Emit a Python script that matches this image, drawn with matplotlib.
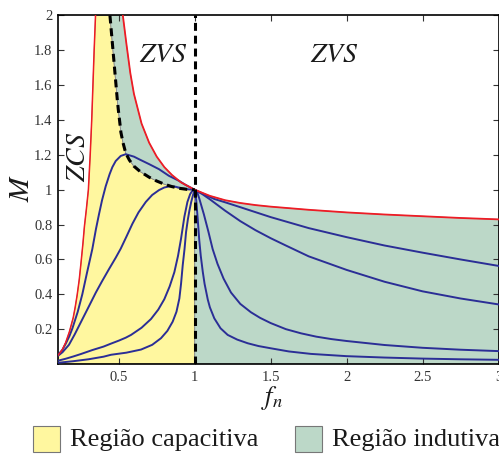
import matplotlib
matplotlib.use("Agg")
import matplotlib.pyplot as plt
from matplotlib.patches import Rectangle
import numpy as np

# ---------------- data ----------------
red_left_fn = [0.10, 0.115, 0.13, 0.15, 0.175, 0.20, 0.213, 0.226, 0.24, 0.252, 0.264, 0.274, 0.287, 0.300, 0.312, 0.322, 0.330, 0.338, 0.347]
red_left_M = [0.05, 0.066, 0.085, 0.122, 0.185, 0.265, 0.325, 0.395, 0.485, 0.585, 0.69, 0.79, 0.89, 1.00, 1.20, 1.40, 1.60, 1.80, 2.00]

red_right_fn = [0.527, 0.55, 0.576, 0.60, 0.65, 0.70, 0.75, 0.80, 0.85, 0.91, 1.00, 1.10, 1.20, 1.30, 1.40, 1.50, 1.75, 2.00, 2.25, 2.50, 2.75, 3.00]
red_right_M = [2.00, 1.84, 1.67, 1.55, 1.38, 1.27, 1.19, 1.13, 1.085, 1.042, 1.00, 0.965, 0.94, 0.924, 0.912, 0.903, 0.885, 0.870, 0.858, 0.848, 0.838, 0.830]

boundary_fn = [0.442, 0.452, 0.462, 0.472, 0.482, 0.490, 0.497, 0.505, 0.514, 0.528, 0.546, 0.57, 0.60, 0.64, 0.70, 0.75, 0.80, 0.85, 0.90, 0.95, 1.00]
boundary_M = [2.00, 1.90, 1.80, 1.70, 1.60, 1.52, 1.46, 1.40, 1.33, 1.27, 1.21, 1.17, 1.135, 1.105, 1.072, 1.05, 1.032, 1.018, 1.008, 1.002, 1.00]

q05_fn = [0.10, 0.128, 0.15, 0.175, 0.195, 0.23, 0.26, 0.29, 0.326, 0.35, 0.37, 0.39, 0.414, 0.44, 0.458, 0.48, 0.513, 0.546, 0.60, 0.634, 0.70, 0.765, 0.83, 0.897, 0.94, 1.00, 1.06, 1.129, 1.20, 1.30, 1.37, 1.50, 1.75, 2.00, 2.25, 2.50, 2.75, 3.00]
q05_M = [0.053, 0.08, 0.115, 0.16, 0.205, 0.30, 0.40, 0.52, 0.66, 0.775, 0.86, 0.94, 1.02, 1.09, 1.13, 1.165, 1.194, 1.204, 1.19, 1.175, 1.147, 1.118, 1.08, 1.051, 1.028, 1.00, 0.975, 0.947, 0.928, 0.900, 0.880, 0.843, 0.780, 0.728, 0.680, 0.639, 0.600, 0.563]

q1_fn = [0.10, 0.13, 0.172, 0.21, 0.261, 0.30, 0.349, 0.39, 0.436, 0.48, 0.513, 0.55, 0.59, 0.63, 0.678, 0.72, 0.765, 0.80, 0.831, 0.87, 0.918, 0.96, 1.00, 1.05, 1.10, 1.20, 1.30, 1.40, 1.50, 1.60, 1.75, 2.00, 2.25, 2.50, 2.75, 3.00]
q1_M = [0.047, 0.068, 0.11, 0.17, 0.258, 0.325, 0.41, 0.475, 0.545, 0.61, 0.662, 0.73, 0.805, 0.87, 0.93, 0.97, 0.998, 1.013, 1.019, 1.018, 1.008, 1.002, 1.00, 0.975, 0.945, 0.88, 0.82, 0.768, 0.722, 0.68, 0.618, 0.54, 0.472, 0.417, 0.376, 0.342]

q5_fn = [0.10, 0.15, 0.20, 0.25, 0.326, 0.40, 0.449, 0.50, 0.546, 0.581, 0.65, 0.712, 0.76, 0.80, 0.835, 0.866, 0.89, 0.91, 0.932, 0.952, 0.97, 0.985, 1.00, 1.015, 1.03, 1.06, 1.09, 1.118, 1.15, 1.19, 1.239, 1.30, 1.37, 1.43, 1.50, 1.60, 1.70, 1.80, 1.90, 2.00, 2.25, 2.50, 2.75, 3.00]
q5_M = [0.019, 0.03, 0.043, 0.057, 0.08, 0.10, 0.117, 0.134, 0.151, 0.167, 0.208, 0.258, 0.312, 0.372, 0.445, 0.527, 0.62, 0.719, 0.845, 0.93, 0.975, 0.995, 1.00, 0.99, 0.95, 0.86, 0.76, 0.66, 0.575, 0.49, 0.41, 0.345, 0.297, 0.265, 0.235, 0.20, 0.176, 0.157, 0.143, 0.132, 0.109, 0.093, 0.082, 0.074]

q15_fn = [0.10, 0.20, 0.30, 0.40, 0.449, 0.55, 0.647, 0.72, 0.778, 0.82, 0.855, 0.88, 0.899, 0.91, 0.921, 0.933, 0.943, 0.955, 0.965, 0.977, 0.989, 1.00, 1.01, 1.02, 1.03, 1.04, 1.053, 1.065, 1.086, 1.10, 1.129, 1.17, 1.217, 1.28, 1.349, 1.42, 1.502, 1.62, 1.765, 2.00, 2.25, 2.50, 2.75, 3.00]
q15_M = [0.007, 0.016, 0.027, 0.042, 0.053, 0.065, 0.083, 0.11, 0.148, 0.19, 0.243, 0.30, 0.376, 0.46, 0.566, 0.66, 0.757, 0.83, 0.88, 0.93, 0.97, 1.00, 0.94, 0.83, 0.71, 0.62, 0.53, 0.46, 0.37, 0.325, 0.262, 0.205, 0.167, 0.14, 0.119, 0.103, 0.09, 0.072, 0.058, 0.045, 0.037, 0.031, 0.027, 0.024]

blue_curves = [(q05_fn, q05_M), (q1_fn, q1_M), (q5_fn, q5_M), (q15_fn, q15_M)]

x_ticks = [0.5, 1, 1.5, 2, 2.5, 3]
x_tick_labels = ["0.5", "1", "1.5", "2", "2.5", "3"]
y_ticks = [0.2, 0.4, 0.6, 0.8, 1.0, 1.2, 1.4, 1.6, 1.8, 2.0]
y_tick_labels = ["0.2", "0.4", "0.6", "0.8", "1", "1.2", "1.4", "1.6", "1.8", "2"]
legend_labels = ["Região capacitiva", "Região indutiva"]

# ---------------- styling ----------------
YELLOW = "#fff79f"
GREEN = "#bcd8c8"
RED = "#ee1c25"
BLUE = "#2b2e96"

plt.rcParams["mathtext.fontset"] = "stix"
plt.rcParams["font.family"] = ["Liberation Serif", "DejaVu Serif"]

W, H = 499, 457
fig = plt.figure(figsize=(W / 100, H / 100), dpi=100)
ax = fig.add_axes([58 / W, 1 - 364 / H, 440.5 / W, (364 - 15.5) / H])

# fills
yx = [0.10] + red_left_fn + boundary_fn + [1.0, 0.10]
yy = [0.0] + red_left_M + boundary_M + [0.0, 0.0]
ax.fill(yx, yy, facecolor=YELLOW, edgecolor="#8a8a7a", lw=0.6, zorder=1)
gx = red_right_fn + [3.0, 1.0] + boundary_fn[::-1]
gy = red_right_M + [0.0, 0.0] + boundary_M[::-1]
ax.fill(gx, gy, facecolor=GREEN, edgecolor="#8a8a8a", lw=0.6, zorder=1)

for fx, my in blue_curves:
    ax.plot(fx, my, color=BLUE, lw=1.4, zorder=3, solid_joinstyle="round")

ax.plot(red_left_fn, red_left_M, color=RED, lw=1.1, zorder=4)
ax.plot(red_right_fn, red_right_M, color=RED, lw=1.3, zorder=4)

dash = (0, (2.6, 1.6))
ax.plot(boundary_fn, boundary_M, color="black", lw=2.2, ls=dash, zorder=5)
ax.axvline(1.0, color="black", lw=2.2, ls=dash, zorder=5)

ax.set_xlim(0.1, 3.0)
ax.set_ylim(0.0, 2.0)
ax.set_xticks(x_ticks)
ax.set_xticklabels(x_tick_labels)
ax.set_yticks(y_ticks)
ax.set_yticklabels(y_tick_labels)
ax.tick_params(direction="in", length=4, width=0.8, top=True, right=True,
               labelsize=10.5, labelcolor="#333333", colors="#333333")
ax.tick_params(axis="x", pad=5)
ax.tick_params(axis="y", pad=4)
for s in ax.spines.values():
    s.set_linewidth(1.2)
    s.set_color("black")

ax.text(0.795, 1.77, r"$ZVS$", fontsize=20, ha="center", va="center", color="#1a1a1a", zorder=6)
ax.text(1.92, 1.77, r"$ZVS$", fontsize=20, ha="center", va="center", color="#1a1a1a", zorder=6)
ax.text(0.232, 1.19, r"$ZCS$", fontsize=20, ha="center", va="center", rotation=90, color="#1a1a1a", zorder=6)

fig.text(22 / W, 1 - 188 / H, r"$M$", fontsize=21, rotation=90, ha="center", va="center", color="#1a1a1a")
fig.text(272 / W, 1 - 398 / H, r"$f_n$", fontsize=19, ha="center", va="center", color="#1a1a1a")

# legend
for (px, lab, col) in [(33, legend_labels[0], YELLOW), (295, legend_labels[1], GREEN)]:
    fig.patches.append(Rectangle((px / W, 1 - 452 / H), 27 / W, 26 / H, transform=fig.transFigure,
                                 facecolor=col, edgecolor="#777777", lw=0.8))
    fig.text((px + 37) / W, 1 - 440 / H, lab, fontsize=19, ha="left", va="center", color="#1a1a1a")

fig.savefig("out.png", dpi=100)
